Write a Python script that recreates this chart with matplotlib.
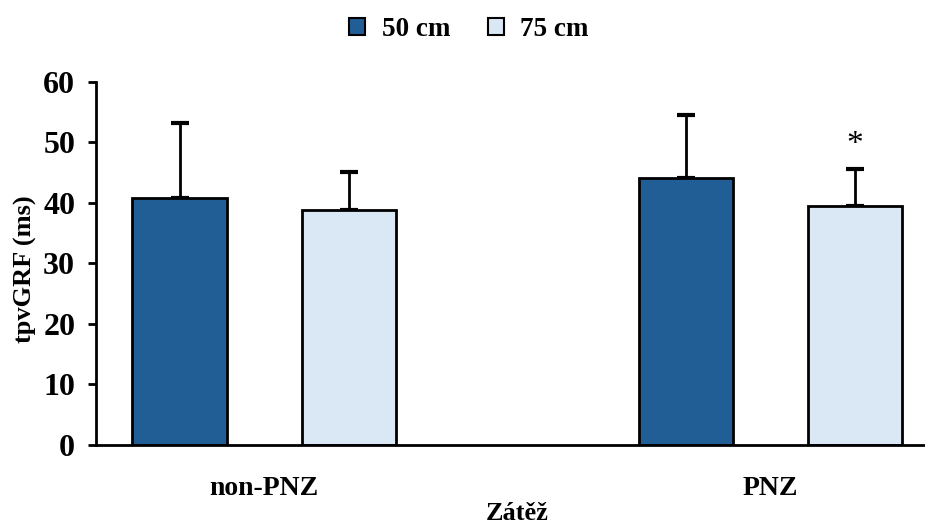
import matplotlib.pyplot as plt
import numpy as np
from matplotlib.patches import Patch

# skupiny a výšky dopadu
groups = ["non-PNZ", "PNZ"]
series = ["50 cm", "75 cm"]
mean_50 = [40.9, 44.2]
mean_75 = [38.8, 39.5]
sd_50 = [12.4, 10.3]
sd_75 = [6.4, 6.1]

plt.rcParams["font.family"] = ["Liberation Serif", "DejaVu Serif"]
plt.rcParams["font.weight"] = "bold"
plt.rcParams["axes.labelweight"] = "bold"

fig = plt.figure(figsize=(9.25, 5.28), dpi=100)
ax = fig.add_axes([0.1038, 0.1572, 0.911, 0.6875])

x = np.arange(len(groups))
w = 0.186
off = 0.167
c50 = "#215E96"
c75 = "#DAE8F5"

ax.bar(x - off, mean_50, w, color=c50, edgecolor="black", linewidth=2, zorder=2)
ax.bar(x + off, mean_75, w, color=c75, edgecolor="black", linewidth=2, zorder=2)

# jen horní chybové úsečky (SD)
ax.errorbar(x - off, mean_50, yerr=[np.zeros(2), sd_50], fmt="none",
            ecolor="black", elinewidth=2, capsize=6.5, capthick=3, zorder=1)
ax.errorbar(x + off, mean_75, yerr=[np.zeros(2), sd_75], fmt="none",
            ecolor="black", elinewidth=2, capsize=6.5, capthick=3, zorder=1)

# hvězdička u PNZ 75 cm
ax.text(x[1] + off, mean_75[1] + sd_75[1] + 1.5, "*", ha="center", va="bottom",
        fontsize=24, fontweight="normal")

ax.set_xlim(-0.332, 1.332)
ax.set_ylim(0, 60)
ax.set_yticks(range(0, 61, 10))
ax.set_xticks(x)
ax.set_xticklabels(groups)
ax.tick_params(axis="y", labelsize=23, width=2, length=6, pad=9)
ax.tick_params(axis="x", labelsize=20, length=0, pad=22)

for s in ["top", "right"]:
    ax.spines[s].set_visible(False)
for s in ["left", "bottom"]:
    ax.spines[s].set_linewidth(2)

ax.set_ylabel("tpvGRF (ms)", fontsize=19)
ax.yaxis.set_label_coords(-0.07, 0.485)
ax.set_xlabel("Zátěž", fontsize=19, labelpad=1)

handles = [Patch(facecolor=c50, edgecolor="black", linewidth=1.5),
           Patch(facecolor=c75, edgecolor="black", linewidth=1.5)]
fig.legend(handles, series, loc="center", bbox_to_anchor=(0.507, 0.944), ncol=2,
           frameon=False, fontsize=19.5, handlelength=0.6, handleheight=0.6,
           handletextpad=0.6, columnspacing=1.4)

fig.savefig("out.png", dpi=100)
